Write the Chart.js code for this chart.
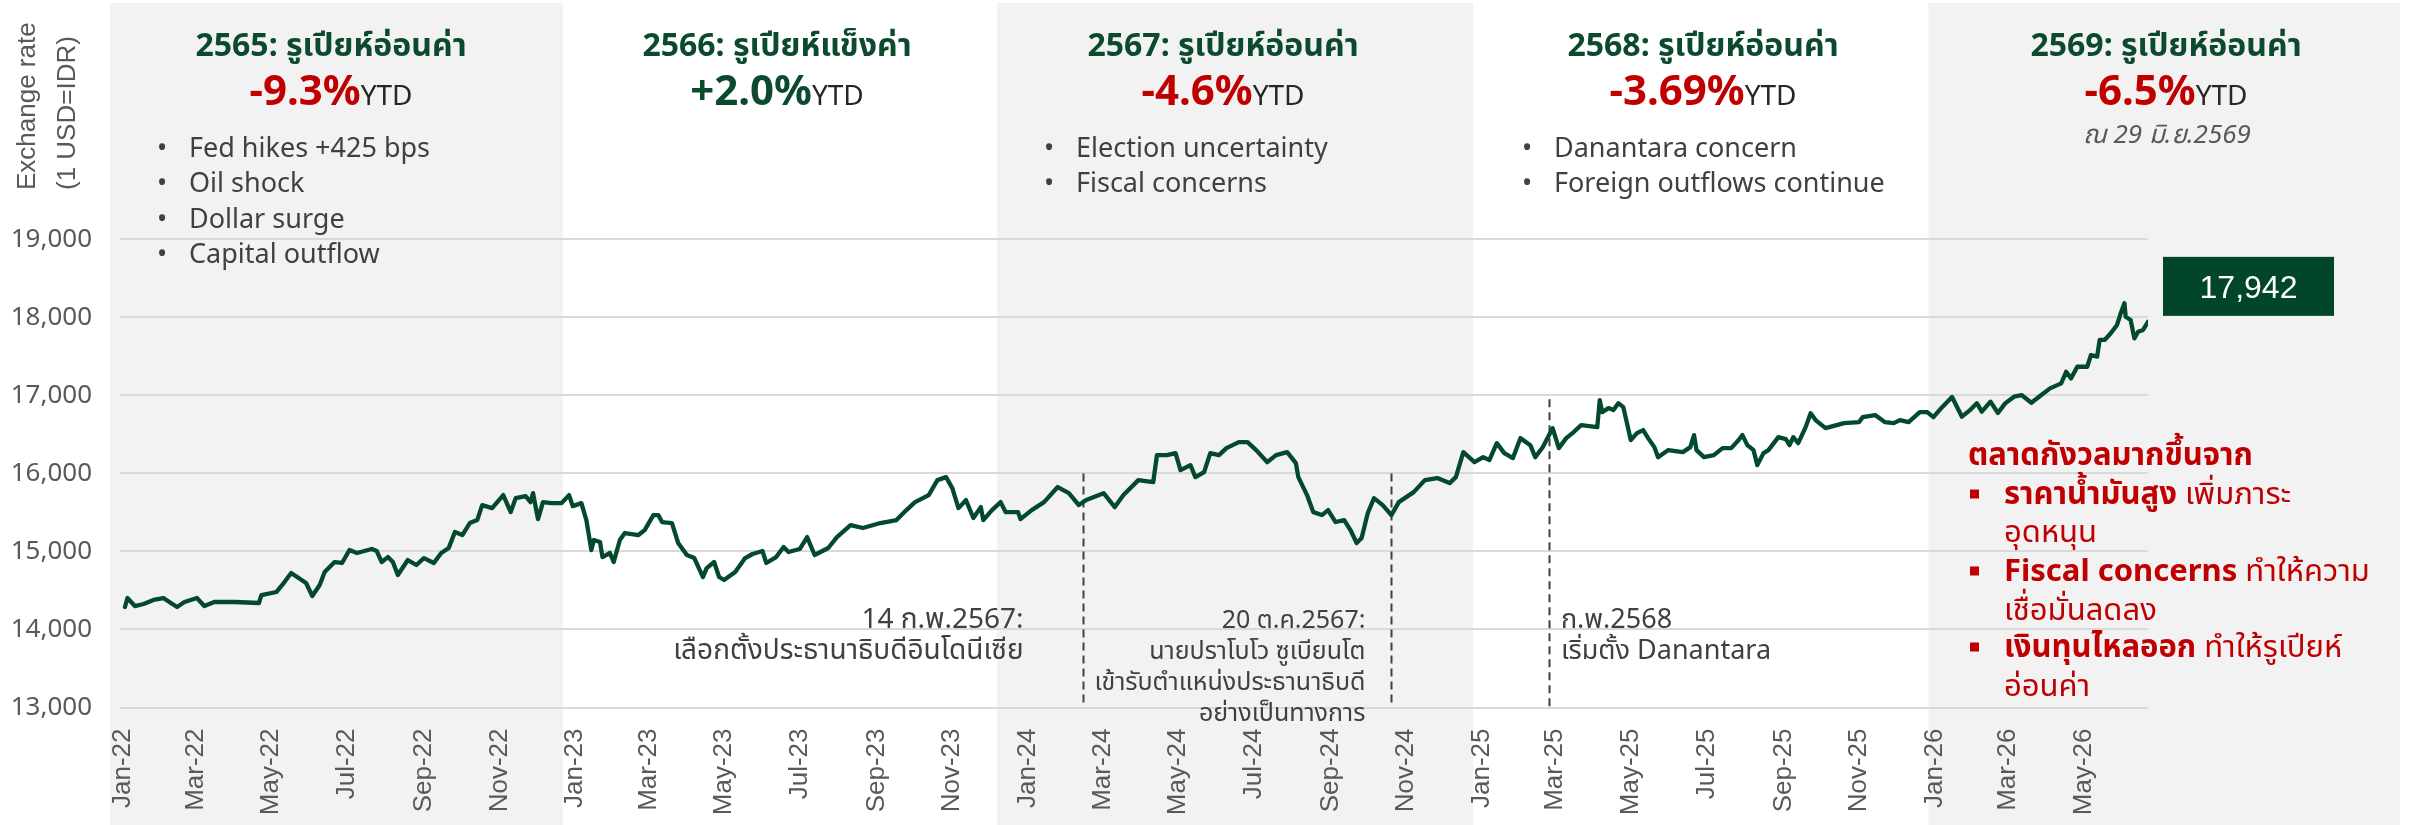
<!DOCTYPE html>
<html><head><meta charset="utf-8">
<script src="https://cdn.jsdelivr.net/npm/chart.js@4.4.1/dist/chart.umd.min.js"></script>
<style>html,body{margin:0;padding:0;background:#fff;}canvas{display:block;}</style>
</head><body>
<canvas id="c" width="2418" height="825"></canvas>
<script>
// ---------------- DATA ----------------
const dates = [
'2022-01-03','2022-01-05','2022-01-11','2022-01-18','2022-01-26','2022-02-03','2022-02-09','2022-02-14','2022-02-20','2022-03-02',
'2022-03-08','2022-03-16','2022-04-02','2022-04-21','2022-04-23','2022-05-05','2022-05-11','2022-05-17','2022-05-23','2022-05-29',
'2022-06-03','2022-06-09','2022-06-13','2022-06-21','2022-06-27','2022-07-03','2022-07-09','2022-07-21','2022-07-25','2022-07-29',
'2022-08-03','2022-08-07','2022-08-11','2022-08-19','2022-08-26','2022-09-01','2022-09-09','2022-09-15','2022-09-21','2022-09-26',
'2022-10-02','2022-10-08','2022-10-14','2022-10-18','2022-10-26','2022-11-04','2022-11-10','2022-11-14','2022-11-22','2022-11-26',
'2022-11-28','2022-12-02','2022-12-06','2022-12-13','2022-12-21','2022-12-27','2022-12-30','2023-01-06','2023-01-10','2023-01-14',
'2023-01-16','2023-01-21','2023-01-23','2023-01-29','2023-02-01','2023-02-06','2023-02-10','2023-02-21','2023-02-26','2023-03-05',
'2023-03-09','2023-03-12','2023-03-20','2023-03-25','2023-04-01','2023-04-07','2023-04-14','2023-04-17','2023-04-23','2023-04-27',
'2023-05-01','2023-05-10','2023-05-18','2023-05-24','2023-06-01','2023-06-04','2023-06-12','2023-06-18','2023-06-22','2023-07-01',
'2023-07-07','2023-07-13','2023-07-24','2023-07-31','2023-08-11','2023-08-21','2023-09-04','2023-09-17','2023-09-25','2023-10-02',
'2023-10-13','2023-10-20','2023-10-27','2023-11-01','2023-11-06','2023-11-12','2023-11-18','2023-11-24','2023-11-26','2023-12-03',
'2023-12-10','2023-12-14','2023-12-24','2023-12-26','2024-01-04','2024-01-14','2024-01-25','2024-02-03','2024-02-11','2024-02-17',
'2024-03-02','2024-03-11','2024-03-18','2024-03-30','2024-04-11','2024-04-14','2024-04-22','2024-04-29','2024-05-03','2024-05-11',
'2024-05-15','2024-05-22','2024-05-27','2024-06-03','2024-06-09','2024-06-19','2024-06-26','2024-07-03','2024-07-12','2024-07-19',
'2024-07-28','2024-08-04','2024-08-06','2024-08-13','2024-08-18','2024-08-25','2024-08-30','2024-09-05','2024-09-12','2024-09-17',
'2024-09-22','2024-09-26','2024-10-01','2024-10-06','2024-10-13','2024-10-20','2024-10-26','2024-11-07','2024-11-16','2024-11-26',
'2024-12-06','2024-12-11','2024-12-17','2024-12-26','2025-01-02','2025-01-07','2025-01-13','2025-01-19','2025-01-26','2025-02-01',
'2025-02-09','2025-02-13','2025-02-19','2025-02-27','2025-03-04','2025-03-10','2025-03-16','2025-03-22','2025-04-04','2025-04-06',
'2025-04-08','2025-04-13','2025-04-17','2025-04-21','2025-04-25','2025-05-01','2025-05-06','2025-05-11','2025-05-15','2025-05-20',
'2025-05-23','2025-05-31','2025-06-12','2025-06-18','2025-06-21','2025-06-23','2025-06-29','2025-07-07','2025-07-14','2025-07-21',
'2025-07-27','2025-07-30','2025-08-03','2025-08-08','2025-08-11','2025-08-16','2025-08-20','2025-08-28','2025-09-03','2025-09-06',
'2025-09-09','2025-09-13','2025-09-19','2025-09-23','2025-09-27','2025-10-05','2025-10-08','2025-10-20','2025-11-01','2025-11-04',
'2025-11-14','2025-11-22','2025-11-29','2025-12-04','2025-12-11','2025-12-20','2025-12-26','2025-12-31','2026-01-07','2026-01-15',
'2026-01-23','2026-01-29','2026-02-04','2026-02-08','2026-02-15','2026-02-21','2026-02-27','2026-03-06','2026-03-12','2026-03-20',
'2026-03-28','2026-04-04','2026-04-13','2026-04-17','2026-04-21','2026-04-26','2026-05-04','2026-05-07','2026-05-12','2026-05-14',
'2026-05-18','2026-05-23','2026-05-28','2026-05-31','2026-06-03','2026-06-04','2026-06-08','2026-06-11','2026-06-14','2026-06-18',
'2026-06-22'
];
const rates = [
14288,14403,14300,14326,14378,14403,14339,14288,14352,14403,
14300,14352,14352,14339,14441,14480,14595,14723,14659,14595,
14429,14570,14736,14864,14852,15018,14980,15031,15005,14864,
14928,14864,14698,14890,14826,14915,14852,14980,15044,15249,
15210,15364,15402,15594,15555,15722,15504,15683,15709,15632,
15747,15414,15632,15619,15619,15722,15581,15619,15402,15018,
15146,15120,14928,14980,14864,15146,15236,15210,15274,15466,
15466,15377,15364,15108,14954,14915,14672,14787,14864,14672,
14634,14736,14915,14967,15005,14852,14928,15056,14993,15031,
15184,14954,15044,15184,15338,15300,15364,15402,15530,15632,
15722,15914,15952,15812,15555,15658,15428,15568,15402,15530,
15632,15504,15504,15414,15530,15632,15825,15747,15594,15658,
15747,15568,15722,15914,15888,16234,16234,16260,16042,16106,
15952,16016,16260,16234,16324,16401,16401,16298,16144,16234,
16273,16132,15952,15722,15504,15466,15530,15377,15402,15274,
15108,15172,15492,15683,15594,15466,15632,15760,15914,15940,
15876,15952,16273,16144,16208,16170,16388,16260,16196,16452,
16362,16208,16336,16580,16324,16452,16530,16618,16593,16939,
16785,16837,16811,16900,16849,16427,16516,16555,16452,16337,
16208,16298,16273,16337,16491,16298,16208,16234,16324,16324,
16427,16491,16362,16298,16106,16260,16298,16465,16440,16362,
16465,16388,16593,16772,16683,16580,16593,16644,16657,16721,
16747,16657,16644,16683,16657,16785,16785,16721,16849,16980,
16727,16804,16900,16791,16919,16774,16900,16983,17004,16906,
17004,17090,17154,17303,17218,17367,17367,17517,17496,17710,
17710,17795,17902,18051,18180,18008,17966,17731,17816,17838,
17942
];
const tickLabels = ['Jan-22','Mar-22','May-22','Jul-22','Sep-22','Nov-22','Jan-23','Mar-23','May-23','Jul-23','Sep-23','Nov-23',
  'Jan-24','Mar-24','May-24','Jul-24','Sep-24','Nov-24','Jan-25','Mar-25','May-25','Jul-25','Sep-25','Nov-25','Jan-26','Mar-26','May-26'];
const yTickValues = [13000,14000,15000,16000,17000,18000,19000];
const shadedSpans = [['2021-12-22','2022-12-22'],['2023-12-07','2024-12-25'],['2025-12-27','2027-01-11']];
const eventDates = ['2024-02-14','2024-10-20','2025-02-24'];
const eventTops = [16000,16000,16950];
const eventTexts = [
  ['14 ก.พ.2567:','เลือกตั้งประธานาธิบดีอินโดนีเซีย'],
  ['20 ต.ค.2567:','นายปราโบโว ซูเบียนโต','เข้ารับตำแหน่งประธานาธิบดี','อย่างเป็นทางการ'],
  ['ก.พ.2568','เริ่มตั้ง Danantara']
];
const yearTitles = ['2565: รูเปียห์อ่อนค่า','2566: รูเปียห์แข็งค่า','2567: รูเปียห์อ่อนค่า','2568: รูเปียห์อ่อนค่า','2569: รูเปียห์อ่อนค่า'];
const yearChanges = ['-9.3%','+2.0%','-4.6%','-3.69%','-6.5%'];
const yearBullets = [['Fed hikes +425 bps','Oil shock','Dollar surge','Capital outflow'],[],['Election uncertainty','Fiscal concerns'],['Danantara concern','Foreign outflows continue'],[]];
const asOfNote = 'ณ 29 มิ.ย.2569';

// ---------------- HELPERS ----------------
const MON = {Jan:0,Feb:1,Mar:2,Apr:3,May:4,Jun:5,Jul:6,Aug:7,Sep:8,Oct:9,Nov:10,Dec:11};
const BASE = Date.UTC(2022,0,1);
const dayOf = s => (Date.UTC(+s.slice(0,4), +s.slice(5,7)-1, +s.slice(8,10)) - BASE) / 864e5;
const tickDays = tickLabels.map(l => (Date.UTC(2000 + +l.slice(4), MON[l.slice(0,3)], 1) - BASE) / 864e5);

const SANS = '"Noto Sans","Noto Sans Thai","Leelawadee UI","DejaVu Sans",sans-serif';
const ARIAL = '"Liberation Sans",Arial,sans-serif';
const GREEN = '#0B4A2C', RED = '#C00000', DARK = '#404040', GREY = '#595959';

function txt(ctx, s, x, y, font, color, align) {
  ctx.font = font; ctx.fillStyle = color; ctx.textAlign = align || 'left'; ctx.textBaseline = 'alphabetic';
  ctx.fillText(s, x, y);
}

const deco = {
  id: 'deco',
  beforeDraw(chart) {
    const {ctx, scales: {x}} = chart;
    ctx.save();
    ctx.fillStyle = '#fff'; ctx.fillRect(0, 0, chart.width, chart.height);
    ctx.fillStyle = '#F2F2F2';
    shadedSpans.forEach(([a, b]) => {
      const x0 = x.getPixelForValue(dayOf(a)), x1 = x.getPixelForValue(dayOf(b));
      ctx.fillRect(x0, 3, x1 - x0, chart.height - 3);
    });
    ctx.restore();
  },
  beforeDatasetsDraw(chart) {
    const {ctx, scales: {x, y}} = chart;
    ctx.save();
    ctx.strokeStyle = DARK; ctx.lineWidth = 2; ctx.setLineDash([8, 5]);
    eventDates.forEach((d, i) => {
      const px = Math.round(x.getPixelForValue(dayOf(d))) + 0.5;
      ctx.beginPath(); ctx.moveTo(px, y.getPixelForValue(eventTops[i])); ctx.lineTo(px, y.getPixelForValue(13000)); ctx.stroke();
    });
    ctx.restore();
  },
  afterDraw(chart) {
    const {ctx, scales: {x, y}, chartArea} = chart;
    ctx.save();
    // y-axis title
    [['Exchange rate', 35], ['(1 USD=IDR)', 75]].forEach(([s, bx]) => {
      ctx.save(); ctx.translate(bx, 190); ctx.rotate(-Math.PI / 2);
      txt(ctx, s, 0, 0, '26px ' + ARIAL, GREY, 'left'); ctx.restore();
    });
    // year panels
    const centers = [331, 777, 1223, 1703, 2166];
    const bulletXs = [157, null, 1044, 1522, null];
    yearTitles.forEach((t, i) => {
      const cx = centers[i];
      txt(ctx, t, cx, 56, 'bold 32px ' + SANS, GREEN, 'center');
      const pct = yearChanges[i];
      const pctFont = 'bold 42px ' + SANS, ytdFont = '28px ' + SANS;
      ctx.font = pctFont; const w1 = ctx.measureText(pct).width;
      ctx.font = ytdFont; const w2 = ctx.measureText('YTD').width;
      const sx = cx - (w1 + w2) / 2;
      txt(ctx, pct, sx, 105, pctFont, pct[0] === '+' ? GREEN : RED, 'left');
      txt(ctx, 'YTD', sx + w1, 105, ytdFont, '#262626', 'left');
      yearBullets[i].forEach((b, j) => {
        const by = 157 + j * 35.3;
        txt(ctx, '•', bulletXs[i], by, '27px ' + SANS, DARK, 'left');
        txt(ctx, b, bulletXs[i] + 32, by, '27px ' + SANS, DARK, 'left');
      });
    });
    txt(ctx, asOfNote, 2167, 143, 'italic 26px ' + SANS, GREY, 'center');

    // event labels
    const evFont = ['28px ', '25px ', '27px '];
    eventTexts.forEach((lines, i) => {
      const px = x.getPixelForValue(dayOf(eventDates[i]));
      const right = i < 2;
      const ax = right ? px + (i === 0 ? -59 : -26) : px + 12;
      lines.forEach((s, j) => txt(ctx, s, ax, 628 + j * 31, evFont[i] + SANS, DARK, right ? 'right' : 'left'));
    });

    // last value box
    const meta = chart.getDatasetMeta(0);
    const last = meta.data[meta.data.length - 1];
    const bx = last.x + 15, by = last.y - 65;
    ctx.fillStyle = '#01452A'; ctx.fillRect(bx, by, 171, 59);
    txt(ctx, rates[rates.length - 1].toLocaleString('en-US'), bx + 85.5, by + 41, '32px ' + ARIAL, '#fff', 'center');

    // red commentary
    const L = chartArea.right - 180, T = chartArea.right - 144;
    txt(ctx, 'ตลาดกังวลมากขึ้นจาก', L, 465, 'bold 31px ' + SANS, RED, 'left');
    const seg = (parts, yy) => {
      let cxp = T;
      parts.forEach(([s, bold]) => {
        const f = (bold ? 'bold ' : '') + '31px ' + SANS;
        txt(ctx, s, cxp, yy, f, RED, 'left'); ctx.font = f; cxp += ctx.measureText(s).width;
      });
    };
    ctx.fillStyle = RED;
    [494, 571, 647].forEach(yy => ctx.fillRect(L + 2, yy - 4.5, 9, 9));
    seg([['ราคาน้ำมันสูง', true], [' เพิ่มภาระ', false]], 504);
    seg([['อุดหนุน', false]], 542);
    seg([['Fiscal concerns', true], [' ทำให้ความ', false]], 581);
    seg([['เชื่อมั่นลดลง', false]], 620);
    seg([['เงินทุนไหลออก', true], [' ทำให้รูเปียห์', false]], 657);
    seg([['อ่อนค่า', false]], 696);
    ctx.restore();
  }
};

new Chart(document.getElementById('c').getContext('2d'), {
  type: 'line',
  data: { datasets: [{
    data: dates.map((d, i) => ({x: dayOf(d), y: rates[i]})),
    borderColor: '#034A2C', borderWidth: 4.3, pointRadius: 0, tension: 0,
    borderJoinStyle: 'round', borderCapStyle: 'round', fill: false
  }]},
  options: {
    responsive: false, animation: false, devicePixelRatio: 1,
    layout: { padding: { left: 0, top: 239.3, right: 270, bottom: 0 } },
    plugins: { legend: { display: false }, tooltip: { enabled: false } },
    scales: {
      x: {
        type: 'linear', min: dayOf('2021-12-30'), max: dayOf(dates[dates.length - 1]),
        grid: { display: false, drawTicks: false }, border: { display: false },
        afterBuildTicks: s => { s.ticks = tickDays.map(v => ({value: v})); },
        afterFit: s => { s.height = 117.5; },
        ticks: { autoSkip: false, minRotation: 90, maxRotation: 90, padding: 21, color: GREY,
          font: { family: ARIAL, size: 26 }, callback: (v, i) => tickLabels[i] }
      },
      y: {
        min: 13000, max: 19000,
        afterBuildTicks: s => { s.ticks = yTickValues.map(v => ({value: v})); },
        afterFit: s => { s.width = 120; },
        grid: { color: '#D9D9D9', lineWidth: 2, drawTicks: false }, border: { display: false },
        ticks: { padding: 28, color: GREY, font: { family: SANS, size: 26 }, callback: v => v.toLocaleString('en-US') }
      }
    }
  },
  plugins: [deco]
});
</script>
</body></html>
